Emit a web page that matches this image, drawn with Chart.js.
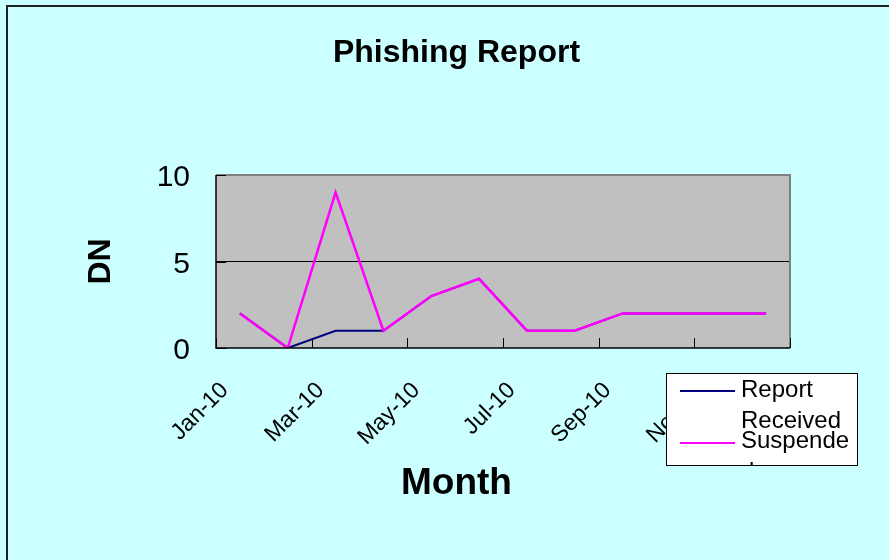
<!DOCTYPE html>
<html>
<head>
<meta charset="utf-8">
<script src="https://cdn.jsdelivr.net/npm/chart.js@4.4.0/dist/chart.umd.min.js"></script>
<style>
  body { margin: 0; background: #ccffff; }
  canvas { display: block; }
</style>
</head>
<body>
<canvas id="myChart" width="889" height="560"></canvas>
<script>
// data
const months = ['Jan-10', 'Feb-10', 'Mar-10', 'Apr-10', 'May-10', 'Jun-10',
                'Jul-10', 'Aug-10', 'Sep-10', 'Oct-10', 'Nov-10', 'Dec-10'];
const reportReceived = [2, 0, 1, 1, 3, 4, 1, 1, 2, 2, 2, 2];
const suspended = [2, 0, 9, 1, 3, 4, 1, 1, 2, 2, 2, 2];
const yTicks = [0, 5, 10];

const fontFamily = '"Liberation Sans", Arial, sans-serif';

// wrap legend text the way the old excel box does (words, then characters)
function wrapText(ctx, text, maxWidth) {
    let lines = [];
    let line = '';
    text.split(' ').forEach(word => {
        let test = line ? line + ' ' + word : word;
        if (ctx.measureText(test).width <= maxWidth) {
            line = test;
            return;
        }
        if (line) lines.push(line);
        line = '';
        for (let ch of word) {
            if (ctx.measureText(line + ch).width > maxWidth && line) {
                lines.push(line);
                line = ch;
            } else {
                line += ch;
            }
        }
    });
    if (line) lines.push(line);
    return lines;
}

const excelLook = {
    id: 'excelLook',
    beforeDraw(chart) {
        const ctx = chart.ctx;
        const a = chart.chartArea;
        ctx.save();
        ctx.fillStyle = '#ccffff';
        ctx.fillRect(0, 0, chart.width, chart.height);
        ctx.strokeStyle = '#222';
        ctx.lineWidth = 2;
        ctx.strokeRect(7, 6, chart.width + 20, chart.height + 20);
        ctx.fillStyle = '#c0c0c0';
        ctx.fillRect(a.left, a.top, a.right - a.left, a.bottom - a.top);
        ctx.restore();
    },
    afterDatasetsDraw(chart) {
        const ctx = chart.ctx;
        const a = chart.chartArea;
        const y = chart.scales.y;
        ctx.save();
        // grey frame top / right
        ctx.strokeStyle = '#808080';
        ctx.lineWidth = 2;
        ctx.beginPath();
        ctx.moveTo(a.left, a.top);
        ctx.lineTo(a.right, a.top);
        ctx.lineTo(a.right, a.bottom);
        ctx.stroke();
        // black axes
        ctx.strokeStyle = '#000';
        ctx.lineWidth = 1.5;
        ctx.beginPath();
        ctx.moveTo(a.left, a.top);
        ctx.lineTo(a.left, a.bottom);
        ctx.lineTo(a.right, a.bottom);
        ctx.stroke();
        // inward tick marks, every second month boundary
        ctx.lineWidth = 1;
        ctx.beginPath();
        const step = (a.right - a.left) / months.length;
        for (let i = 0; i <= months.length; i += 2) {
            let px = Math.round(a.left + i * step) + 0.5;
            ctx.moveTo(px, a.bottom);
            ctx.lineTo(px, a.bottom - 10);
        }
        yTicks.forEach(v => {
            let py = Math.round(y.getPixelForValue(v)) + 0.5;
            ctx.moveTo(a.left, py);
            ctx.lineTo(a.left + 10, py);
        });
        ctx.stroke();
        ctx.restore();
    },
    afterDraw(chart) {
        const ctx = chart.ctx;
        ctx.save();
        // axis title centred like the chart title (whole chart, not plot)
        const tb = chart.titleBlock;
        ctx.font = 'bold 37px ' + fontFamily;
        ctx.fillStyle = '#000';
        ctx.textAlign = 'center';
        ctx.textBaseline = 'middle';
        ctx.fillText('Month', (tb.left + tb.right) / 2, 484);

        // legend box, overlapping the axis labels like in the original
        const bx = 666, by = 373, bw = 192, bh = 93;
        ctx.textAlign = 'left';
        ctx.fillStyle = '#fff';
        ctx.fillRect(bx, by, bw, bh);
        ctx.strokeStyle = '#000';
        ctx.lineWidth = 1;
        ctx.strokeRect(bx + 0.5, by + 0.5, bw - 1, bh - 1);
        ctx.beginPath();
        ctx.rect(bx + 1, by + 1, bw - 2, bh - 2);
        ctx.clip();
        ctx.font = '24px ' + fontFamily;
        ctx.fillStyle = '#000';
        ctx.textBaseline = 'alphabetic';
        const items = [chart.data.datasets[1], chart.data.datasets[0]];
        const lineYs = [391, 443];
        const textYs = [397, 448];
        items.forEach((ds, i) => {
            ctx.strokeStyle = ds.borderColor;
            ctx.lineWidth = 2;
            ctx.beginPath();
            ctx.moveTo(680, lineYs[i]);
            ctx.lineTo(735, lineYs[i]);
            ctx.stroke();
            wrapText(ctx, ds.label, 112).forEach((t, j) => {
                ctx.fillText(t, 741, textYs[i] + j * 31);
            });
        });
        ctx.restore();
    }
};

const ctx = document.getElementById('myChart');
const phishingChart = new Chart(ctx, {
    type: 'line',
    data: {
        labels: months,
        datasets: [{
            label: 'Suspended',
            data: suspended,
            borderColor: '#ff00ff',
            borderWidth: 2.5,
            pointRadius: 0,
            tension: 0
        }, {
            label: 'Report Received',
            data: reportReceived,
            borderColor: '#000080',
            borderWidth: 2,
            pointRadius: 0,
            tension: 0
        }]
    },
    options: {
        responsive: false,
        animation: false,
        layout: {
            padding: { left: 24, right: 0, top: 0, bottom: 0 }
        },
        plugins: {
            legend: { display: false },
            tooltip: { enabled: false },
            title: {
                display: true,
                text: 'Phishing Report',
                color: '#000',
                font: { family: fontFamily, size: 32, weight: 'bold' },
                padding: { top: 34, bottom: 102.6 }
            }
        },
        scales: {
            x: {
                offset: true,
                grid: { display: false },
                border: { display: false },
                ticks: {
                    autoSkip: false,
                    minRotation: 45,
                    maxRotation: 45,
                    padding: 21,
                    labelOffset: -15,
                    color: '#000',
                    font: { family: fontFamily, size: 23 },
                    callback: function(value, index) {
                        return index % 2 === 0 ? months[index] : '';
                    }
                },
                afterFit: function(scale) { scale.height = 212; }
            },
            y: {
                min: 0,
                max: 10,
                afterBuildTicks: function(scale) {
                    scale.ticks = yTicks.map(v => ({ value: v }));
                },
                grid: {
                    drawTicks: false,
                    lineWidth: 1,
                    color: c => (c.tick && c.tick.value === 5) ? '#000' : 'rgba(0,0,0,0)'
                },
                border: { display: false },
                ticks: {
                    padding: 26,
                    labelOffset: 3,
                    color: '#000',
                    font: { family: fontFamily, size: 30 }
                },
                title: {
                    display: true,
                    text: 'DN',
                    color: '#000',
                    font: { family: fontFamily, size: 32, weight: 'bold' },
                    padding: { top: 58, bottom: 0 }
                },
                afterFit: function(scale) { scale.width = 192; }
            },
            // empty axis on the right, only keeps the blank strip beside the plot
            yRight: {
                position: 'right',
                display: true,
                grid: { display: false },
                border: { display: false },
                ticks: { display: false },
                afterFit: function(scale) { scale.width = 99; }
            }
        }
    },
    plugins: [excelLook]
});
</script>
</body>
</html>
